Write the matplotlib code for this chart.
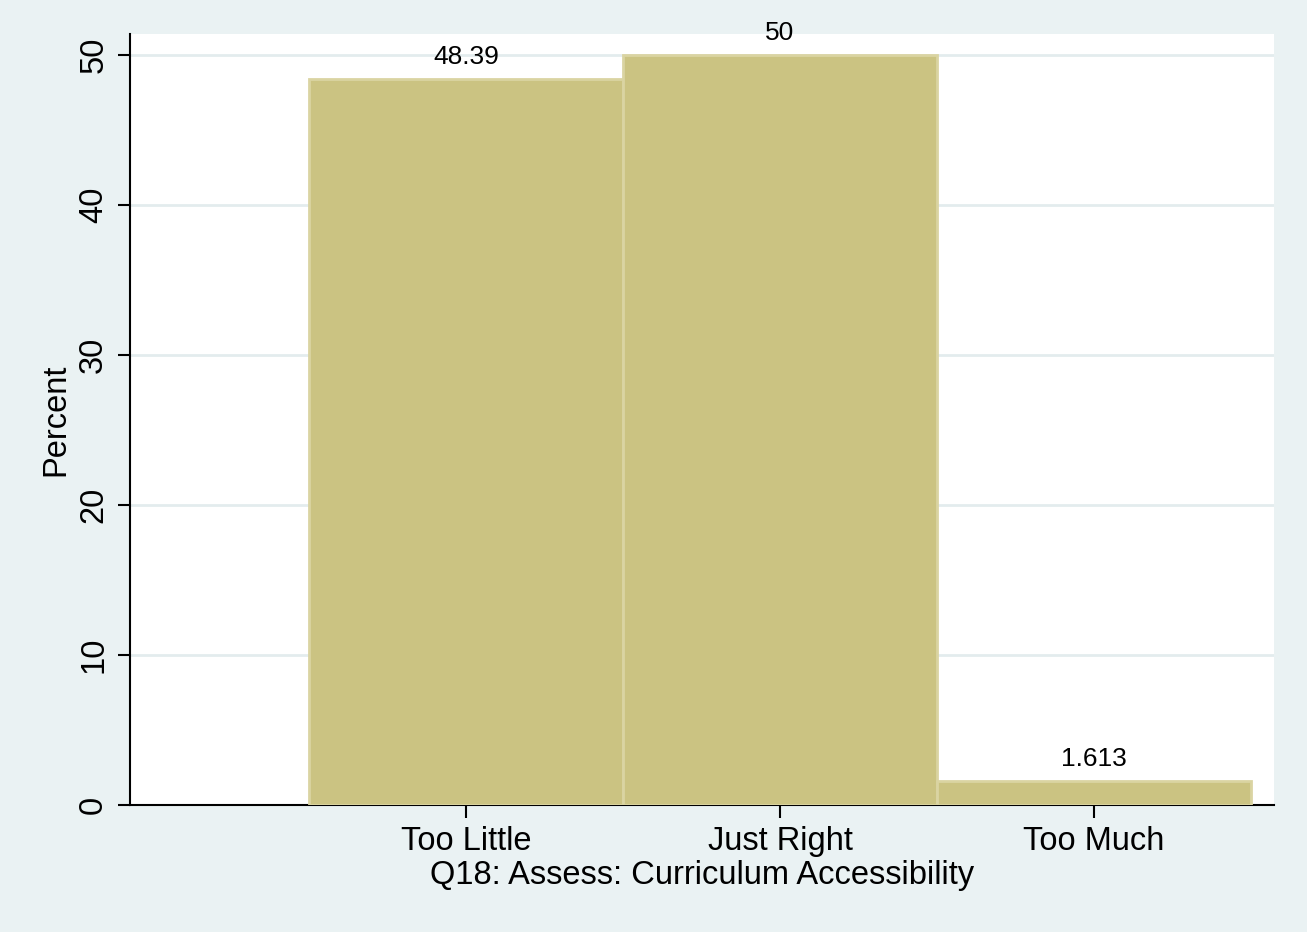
import matplotlib.pyplot as plt
import numpy as np

# data
categories = ['Too Little', 'Just Right', 'Too Much']
percents = [48.39, 50.0, 1.613]
value_labels = ['48.39', '50', '1.613']

bar_color = '#CBC382'
edge_color = '#DAD4A2'
bg_color = '#EAF2F3'
grid_color = '#E3ECEE'

plt.rcParams['font.family'] = ['Liberation Sans', 'DejaVu Sans']

fig = plt.figure(figsize=(13.07, 9.32), dpi=100, facecolor=bg_color)
ax = fig.add_axes([130 / 1307, 1 - 805 / 932, (1274 - 130) / 1307, (805 - 34) / 932])
ax.set_facecolor('white')

x = np.arange(1, len(categories) + 1)
bars = ax.bar(x, percents, width=1.0, color=bar_color, edgecolor=edge_color,
              linewidth=2, zorder=3)

for xi, v, lab in zip(x, percents, value_labels):
    ax.annotate(lab, (xi, v), xytext=(0, 7), textcoords='offset points',
                ha='center', va='bottom', fontsize=19, zorder=4)

ax.set_xlim(-0.07, 3.573)
ax.set_ylim(0, 51.4)
ax.set_yticks([0, 10, 20, 30, 40, 50])
ax.set_xticks(x)
ax.set_xticklabels(categories)
ax.yaxis.grid(True, color=grid_color, linewidth=2, zorder=0)
ax.set_axisbelow(True)

for s in ['top', 'right']:
    ax.spines[s].set_visible(False)
for s in ['left', 'bottom']:
    ax.spines[s].set_linewidth(1.5)
    ax.spines[s].set_color('black')

ax.tick_params(axis='both', direction='out', length=9, width=1.5, labelsize=23.5)
ax.tick_params(axis='x', pad=6)
ax.tick_params(axis='y', pad=6)
for lbl in ax.get_yticklabels():
    lbl.set_rotation(90)
    lbl.set_va('center')

ax.set_ylabel('Percent', fontsize=23.5, labelpad=5)
ax.set_xlabel('Q18: Assess: Curriculum Accessibility', fontsize=23.5, labelpad=2)

plt.savefig('out.png', dpi=100, facecolor=bg_color)
